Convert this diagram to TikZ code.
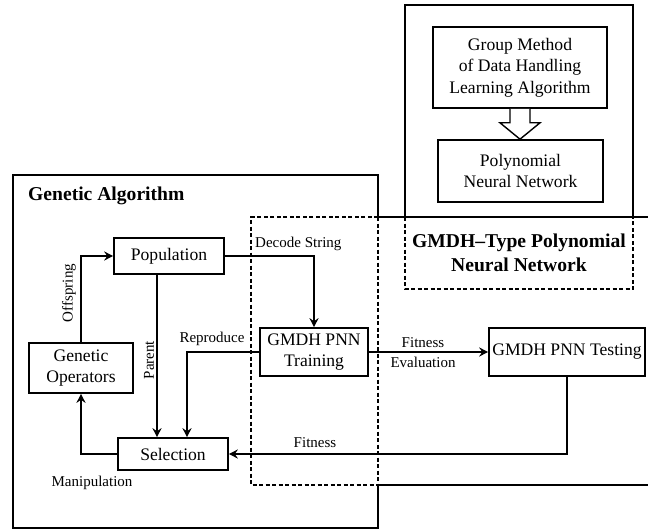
\documentclass[tikz,border=0pt]{standalone}
\usepackage{fontspec}
\setmainfont{Liberation Serif}
\usetikzlibrary{arrows.meta,calc}

\tikzset{
  blk/.style={draw, line width=1.6pt, align=center, inner sep=0pt,
    font=\fontsize{17.6}{21.5}\selectfont},
  lbl/.style={inner sep=0pt, align=center, font=\fontsize{15}{18}\selectfont},
  ttl/.style={inner sep=0pt, align=center, font=\fontsize{19.6}{24}\selectfont\bfseries},
  conn/.style={line width=1.6pt, -{Stealth[length=9pt,width=9pt,inset=3pt]}},
  edge/.style={line width=1.6pt},
  dsh/.style={line width=1.6pt, dash pattern=on 4pt off 2.5pt},
}

\begin{document}
\begin{tikzpicture}[x=1pt,y=-1pt]
			%%%%% FRAME %%%%%
			\useasboundingbox (0,0) rectangle (648,532);
			
			% genetic algorithm frame
			\draw[edge] (378,217) -- (378,175) -- (13,175) -- (13,528) -- (378,528) -- (378,485);
			\draw[dsh] (378,217) -- (378,485);
			
			% PNN region
			\draw[dsh] (378,217) -- (251,217) -- (251,485) -- (378,485);
			\draw[edge] (378,217) -- (648,217);
			\draw[edge] (378,485) -- (648,485);
			
			% GMDH frame
			\draw[edge] (405,217) -- (405,5) -- (633,5) -- (633,217);
			\draw[dsh] (405,217) -- (405,289) -- (633,289) -- (633,217);
			
			%%%%% BLOCKS %%%%%
			\node[blk, minimum width=174pt, minimum height=81pt] (gmdhalg) at (520,67.5)
				{Group Method\\of Data Handling\\Learning Algorithm};
			\node[blk, minimum width=165pt, minimum height=62pt] (pnn) at (520.5,171)
				{Polynomial\\Neural Network};
			
			\node[blk, minimum width=110pt, minimum height=36pt] (pop) at (169,256) {Population};
			\node[blk, minimum width=104pt, minimum height=50pt] (genop) at (81,368) {Genetic\\Operators};
			\node[blk, minimum width=110pt, minimum height=32pt] (sel) at (173,454) {Selection};
			\node[blk, minimum width=108pt, minimum height=48pt] (train) at (314,352) {GMDH PNN\\Training};
			\node[blk, minimum width=156pt, minimum height=48pt] (test) at (567,352) {GMDH PNN Testing};
			
			%%%%% TITLES %%%%%
			\node[ttl, anchor=west] (gatitle) at (28,196) {Genetic Algorithm};
			\node[ttl] (pnntitle) at (519,253) {GMDH--Type Polynomial\\Neural Network};
			
			%%%%% CONNECTORS %%%%%
			\coordinate (px) at (157,0);
			\coordinate (rx) at (187,0);
			
			\draw[line width=1.4pt, fill=white] ($(gmdhalg.south)+(-10,0)$) -- ($(gmdhalg.south)+(-10,14)$)
				-- ($(gmdhalg.south)+(-20,14)$) -- (gmdhalg.south |- pnn.north)
				-- ($(gmdhalg.south)+(20,14)$) -- ($(gmdhalg.south)+(10,14)$) -- ($(gmdhalg.south)+(10,0)$);
			
			\draw[conn] (pop.east) -| (train.north);
			\draw[conn] (genop.north) |- (pop.west);
			\draw[conn] (pop.south -| px) -- (sel.north -| px);
			\draw[conn] (train.west) -| (sel.north -| rx);
			\draw[conn] (train.east) -- (test.west);
			\draw[conn] (test.south) |- (sel.east);
			\draw[conn] (sel.west) -| (genop.south);
			
			%%%%% LABELS %%%%%
			\node[lbl, anchor=west] (ldecode) at (255,244) {Decode String};
			\node[lbl, rotate=90] (loffspring) at (69,293) {Offspring};
			\node[lbl, rotate=90] (lparent) at (149,360) {Parent};
			\node[lbl] (lreproduce) at (212,339) {Reproduce};
			\node[lbl] (lfiteval) at (423,353) {Fitness\\[2pt]Evaluation};
			\node[lbl] (lfitness) at (315,443) {Fitness};
			\node[lbl] (lmanip) at (92,483) {Manipulation};
			
			%%%%% END %%%%%
		\end{tikzpicture}
\end{document}
